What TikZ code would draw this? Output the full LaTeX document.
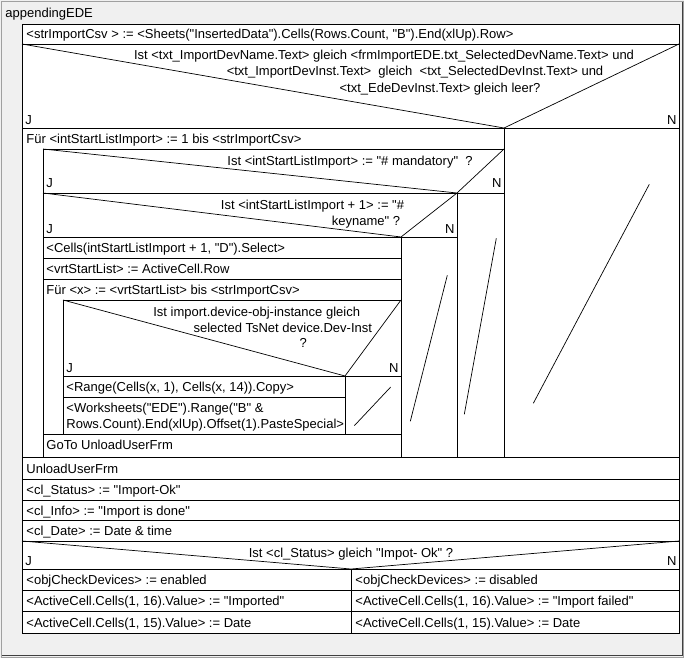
\documentclass[tikz,border=0pt]{standalone}
\usepackage{fontspec}
\setmainfont{Liberation Sans}[Ligatures=TeXOff]
\definecolor{panelgray}{HTML}{F0F0F0}
\definecolor{rimdark}{HTML}{404040}
\definecolor{rimlight}{HTML}{A0A0A0}

\newcommand*{\nsleft}{22}
\newcommand*{\nsright}{679}
\newcommand*{\nstop}{24}
\newcommand*{\nsbot}{633}

\begin{document}
\begin{tikzpicture}
[
	x=1pt,
	y=-1pt,
	font=\fontsize{13}{15}\selectfont,
	line width=0.9pt,
	cell/.style={anchor=base west,inner sep=0pt},
	cond/.style={anchor=base,inner sep=0pt},
	yes/.style={anchor=base west,inner sep=0pt},
	no/.style={anchor=base east,inner sep=0pt},
	emptybranch/.style={line width=0.7pt}
]

	% panel
	\fill[panelgray] (0,0) rectangle (684,658);
	\useasboundingbox (0,0) rectangle (684,658);
	\draw[rimlight] (1,657) -- (1,1) -- (683,1) -- (683,657) -- cycle;
	\draw[rimdark] (2,655) -- (682,655) -- (682,2);
	\node[cell] at (5,17.5) (title) {appendingEDE};

	% body
	\filldraw[fill=white,draw=black] (\nsleft,\nstop) rectangle (\nsright,\nsbot);
	\foreach \y in {44,128,457,479,500,520,541,569,590,611} {
		\draw (\nsleft,\y) -- (\nsright,\y);
	}

	% first statement
	\node[cell] at (26,38.5) (import) {<strImportCsv > := <Sheets("InsertedData").Cells(Rows.Count, "B").End(xlUp).Row>};

	% device check
	\draw[line width=0.7pt] (\nsleft,44) -- (504,128) -- (\nsright,44);
	\node[cond] at (384,59.3) (devq1) {Ist <txt\_ImportDevName.Text> gleich <frmImportEDE.txt\_SelectedDevName.Text> und};
	\node[cond] at (415,76) (devq2) {<txt\_ImportDevInst.Text>\ \ gleich\ \ <txt\_SelectedDevInst.Text> und};
	\node[cond] at (440,92.6) (devq3) {<txt\_EdeDevInst.Text> gleich leer?};
	\node[yes] at (25,124.3) (devj) {J};
	\node[no] at (677,124.3) (devn) {N};
	\draw (504,128) -- (504,457);
	\draw[emptybranch] (533.3,403.3) -- (649.3,184.3);

	% outer loop
	\node[cell] at (26,143.5) (loopa) {Für <intStartListImport> := 1 bis <strImportCsv>};
	\draw (43,149) -- (504,149);
	\draw (43,149) -- (43,457);

	% mandatory check
	\draw[line width=0.7pt] (43,149) -- (457,193) -- (504,149);
	\node[cond] at (350,165.3) (mandq) {Ist <intStartListImport> := "\# mandatory"\ \ ?};
	\node[yes] at (46,187.6) (mandj) {J};
	\node[no] at (502,187.6) (mandn) {N};
	\draw (43,193) -- (504,193);
	\draw (457,193) -- (457,457);
	\draw[emptybranch] (464.3,414.3) -- (496.3,238.3);

	% keyname check
	\draw[line width=0.7pt] (43,193) -- (401,237) -- (457,193);
	\node[cond] at (312.5,209.3) (keyq1) {Ist <intStartListImport + 1> := "\#};
	\node[cond] at (366,225) (keyq2) {keyname" ?};
	\node[yes] at (46,233.6) (keyj) {J};
	\node[no] at (455,233.6) (keyn) {N};
	\draw (43,237) -- (457,237);
	\draw (401,237) -- (401,457);
	\draw[emptybranch] (410.3,421.3) -- (447.3,275.3);

	% keyname statements
	\node[cell] at (46,252.5) (select) {<Cells(intStartListImport + 1, "D").Select>};
	\draw (43,258) -- (401,258);
	\node[cell] at (46,273.5) (startrow) {<vrtStartList> := ActiveCell.Row};
	\draw (43,279) -- (401,279);

	% inner loop
	\node[cell] at (46,294.5) (loopb) {Für <x> := <vrtStartList> bis <strImportCsv>};
	\draw (63,300) -- (401,300);
	\draw (63,300) -- (63,434);

	% instance check
	\draw[line width=0.7pt] (63,300) -- (345,376) -- (401,300);
	\node[cond] at (256.7,316) (instq1) {Ist import.device-obj-instance gleich};
	\node[cond] at (282.8,332) (instq2) {selected TsNet device.Dev-Inst};
	\node[cond] at (303.3,347.6) (instq3) {?};
	\node[yes] at (66,372.6) (instj) {J};
	\node[no] at (399,372.6) (instn) {N};
	\draw (63,376) -- (401,376);
	\draw (345,376) -- (345,434);
	\draw[emptybranch] (354.3,425.7) -- (390.7,387);
	\node[cell] at (66,391.5) (copy) {<Range(Cells(x, 1), Cells(x, 14)).Copy>};
	\draw (63,397) -- (345,397);
	\node[cell] at (66,412.5) (paste1) {<Worksheets("EDE").Range("B" \&};
	\node[cell] at (66,428.5) (paste2) {Rows.Count).End(xlUp).Offset(1).PasteSpecial>};
	\draw (43,434) -- (401,434);
	\node[cell] at (46,449) (goto) {GoTo UnloadUserFrm};

	% closing statements
	\node[cell] at (26,473.3) (unload) {UnloadUserFrm};
	\node[cell] at (26,494.5) (status) {<cl\_Status> := "Import-Ok"};
	\node[cell] at (26,515) (info) {<cl\_Info> := "Import is done"};
	\node[cell] at (26,535.5) (date) {<cl\_Date> := Date \& time};

	% status check
	\draw[line width=0.7pt] (\nsleft,541) -- (351,569) -- (\nsright,541);
	\node[cond] at (351,557.6) (statq) {Ist <cl\_Status> gleich "Impot- Ok" ?};
	\node[yes] at (25,565.3) (statj) {J};
	\node[no] at (677,565.3) (statn) {N};
	\draw (351,569) -- (351,\nsbot);
	\node[cell] at (26,584.5) (enabled) {<objCheckDevices> := enabled};
	\node[cell] at (26,605.5) (imported) {<ActiveCell.Cells(1, 16).Value> := "Imported"};
	\node[cell] at (26,627) (datej) {<ActiveCell.Cells(1, 15).Value> := Date};
	\node[cell] at (355,584.5) (disabled) {<objCheckDevices> := disabled};
	\node[cell] at (355,605.5) (failed) {<ActiveCell.Cells(1, 16).Value> := "Import failed"};
	\node[cell] at (355,627) (daten) {<ActiveCell.Cells(1, 15).Value> := Date};

\end{tikzpicture}
\end{document}
